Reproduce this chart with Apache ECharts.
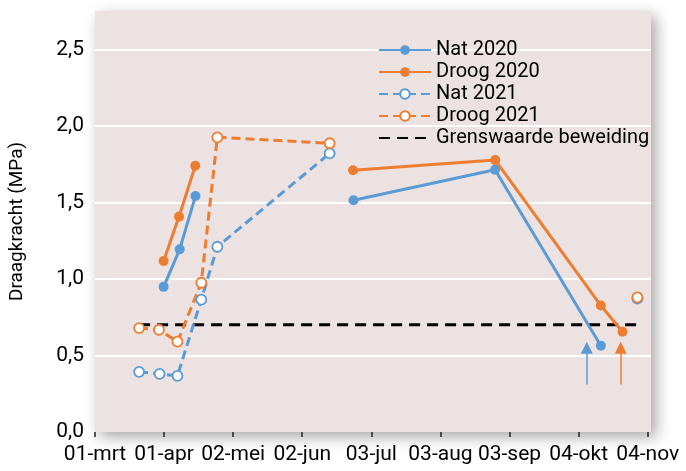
<!DOCTYPE html>
<html>
<head>
<meta charset="utf-8">
<script src="https://cdn.jsdelivr.net/npm/echarts@6/dist/echarts.min.js"></script>
<style>
  html, body { margin: 0; padding: 0; background: #fff; }
  #viz { width: 686px; height: 471px; }
</style>
</head>
<body>
<div id="viz"></div>
<script>
// x values are days counted from 01-mrt
const tickDays = [0, 31, 62, 93, 124, 155, 186, 217, 248];
const tickLabels = ['01-mrt', '01-apr', '02-mei', '02-jun', '03-jul', '03-aug', '03-sep', '04-okt', '04-nov'];

// null = gap in the line
const natDays2020 = [30.8, 38, 45.1, null, 116, 179.5, 227];
const nat2020 = [0.948, 1.193, 1.542, null, 1.514, 1.713, 0.564];

const droogDays2020 = [30.8, 37.7, 45, null, 115.8, 179.6, 227, 236.7];
const droog2020 = [1.117, 1.407, 1.739, null, 1.710, 1.776, 0.826, 0.655];

const natDays2021 = [19.8, 29, 37, 47.7, 54.9, 105.3, null, 243.4];
const nat2021 = [0.393, 0.380, 0.367, 0.865, 1.210, 1.820, null, 0.872];

const droogDays2021 = [19.8, 28.7, 37, 47.7, 54.9, 105.3, null, 243.4];
const droog2021 = [0.679, 0.668, 0.590, 0.975, 1.925, 1.886, null, 0.880];

const grensDays = [19.8, 244];
const grens = [0.7, 0.7];

// arrows: [day, from, to]
const arrowNat = [220.7, 0.31, 0.55];
const arrowDroog = [235.9, 0.31, 0.55];

const BLUE = '#5b9bd5';
const ORANGE = '#ed7d31';
const FONT = 'Roboto';

function pairs(days, vals) {
    return days.map((d, i) => vals[i] === null ? ['-', '-'] : [d, vals[i]]);
}

function arrow(a, color) {
    return {
        silent: true,
        symbol: ['none', 'triangle'],
        symbolSize: [12, 12],
        label: { show: false },
        lineStyle: { color: color, width: 1.5, type: 'solid' },
        data: [[{ coord: [a[0], a[1]] }, { coord: [a[0], a[2]] }]]
    };
}

var myChart = echarts.init(document.getElementById('viz'));

var option = {
    animation: false,
    grid: {
        left: 93, right: 35, top: 11, bottom: 39,
        show: true,
        backgroundColor: '#ebe2e1',
        borderWidth: 0,
        shadowColor: 'rgba(0,0,0,0.35)',
        shadowBlur: 14,
        shadowOffsetX: 5,
        shadowOffsetY: 5
    },
    legend: {
        orient: 'vertical',
        left: 373,
        top: 35,
        itemWidth: 52,
        itemHeight: 12,
        itemGap: 2,
        textStyle: { fontFamily: FONT, fontSize: 20, color: '#000', lineHeight: 20 },
        data: [
            'Nat 2020', 'Droog 2020', 'Nat 2021', 'Droog 2021',
            { name: 'Grenswaarde beweiding', itemStyle: { opacity: 0 } }
        ]
    },
    xAxis: {
        type: 'value',
        min: 0,
        max: 249.5,
        splitLine: { show: false },
        axisLine: { show: false },
        axisTick: { show: true, length: 5, lineStyle: { color: '#222', width: 1.5 }, customValues: tickDays },
        axisLabel: {
            customValues: tickDays,
            fontFamily: FONT, fontSize: 21, color: '#000', margin: 12,
            formatter: v => tickLabels[tickDays.indexOf(v)] || ''
        }
    },
    yAxis: {
        type: 'value',
        min: 0,
        max: 2.75,
        interval: 0.5,
        name: 'Draagkracht (MPa)',
        nameLocation: 'middle',
        nameRotate: 90,
        nameGap: 68,
        nameTextStyle: { fontFamily: FONT, fontSize: 19, color: '#000' },
        axisLine: { show: false },
        axisTick: { show: false },
        splitLine: { show: true, showMinLine: false, showMaxLine: false, lineStyle: { color: '#fff', width: 2 } },
        axisLabel: {
            showMaxLabel: false,
            fontFamily: FONT, fontSize: 21, color: '#000', margin: 11,
            formatter: v => v.toFixed(1).replace('.', ',')
        }
    },
    series: [
        {
            name: 'Nat 2020', type: 'line',
            data: pairs(natDays2020, nat2020),
            symbol: 'circle', symbolSize: 10,
            itemStyle: { color: BLUE },
            lineStyle: { color: BLUE, width: 3 },
            markLine: arrow(arrowNat, BLUE)
        },
        {
            name: 'Droog 2020', type: 'line',
            data: pairs(droogDays2020, droog2020),
            symbol: 'circle', symbolSize: 10,
            itemStyle: { color: ORANGE },
            lineStyle: { color: ORANGE, width: 3 },
            markLine: arrow(arrowDroog, ORANGE)
        },
        {
            name: 'Nat 2021', type: 'line',
            data: pairs(natDays2021, nat2021),
            symbol: 'circle', symbolSize: 10,
            itemStyle: { color: '#fff', borderColor: BLUE, borderWidth: 1.8 },
            lineStyle: { color: BLUE, width: 3, type: [9, 5] }
        },
        {
            name: 'Droog 2021', type: 'line',
            data: pairs(droogDays2021, droog2021),
            symbol: 'circle', symbolSize: 10,
            itemStyle: { color: '#fff', borderColor: ORANGE, borderWidth: 1.8 },
            lineStyle: { color: ORANGE, width: 3, type: [9, 5] }
        },
        {
            name: 'Grenswaarde beweiding', type: 'line',
            data: pairs(grensDays, grens),
            symbol: 'none',
            itemStyle: { color: '#000' },
            lineStyle: { color: '#000', width: 3, type: [11, 7] },
            z: 1
        }
    ]
};

myChart.setOption(option);
</script>
</body>
</html>
